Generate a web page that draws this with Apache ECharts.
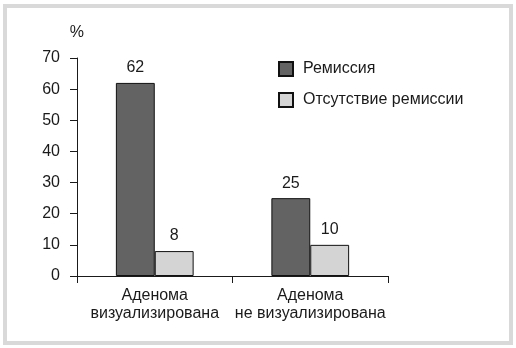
<!DOCTYPE html>
<html><head><meta charset="utf-8">
<style>html,body{margin:0;padding:0;background:#fff}#c{width:516px;height:348px}</style>
<script src="https://cdn.jsdelivr.net/npm/echarts@6/dist/echarts.min.js"></script>
</head><body><div id="c"></div>
<script>
const categories = ['Аденома\nвизуализирована', 'Аденома\nне визуализирована'];
const remission = [62, 25];
const noRemission = [8, 10];
const seriesNames = ['Ремиссия', 'Отсутствие ремиссии'];
const yTicks = {min: 0, max: 70, interval: 10};

const font = '"Liberation Sans", Arial, sans-serif';
const chart = echarts.init(document.getElementById('c'), null, {renderer: 'canvas'});
const barLabel = {show: true, position: 'top', distance: 7, color: '#1a1a1a', fontSize: 16, fontFamily: font};
chart.setOption({
  animation: false,
  textStyle: {fontFamily: font},
  graphic: [{type: 'rect', shape: {x: 5, y: 6, width: 506, height: 337}, style: {fill: 'none', stroke: '#d9d9d9', lineWidth: 4}}],
  grid: {left: 77, right: 128, top: 58, bottom: 72, containLabel: false},
  legend: {
    orient: 'vertical', left: 273, top: 56, itemWidth: 14, itemHeight: 14, itemGap: 15,
    icon: 'rect',
    textStyle: {fontSize: 16, color: '#1a1a1a', fontFamily: font, padding: [0, 0, 0, 5]},
    data: seriesNames
  },
  xAxis: {
    type: 'category', data: categories,
    axisLine: {lineStyle: {color: '#1a1a1a', width: 1}},
    axisTick: {show: true, length: 7, lineStyle: {color: '#1a1a1a'}},
    axisLabel: {interval: 0, color: '#1a1a1a', fontSize: 16, fontFamily: font, margin: 11, lineHeight: 18}
  },
  yAxis: {
    type: 'value', min: yTicks.min, max: yTicks.max, interval: yTicks.interval,
    name: '%', nameGap: 17, nameTextStyle: {color: '#1a1a1a', fontSize: 16, fontFamily: font, align: 'right', padding: [0, -7, 0, 0]},
    axisLine: {show: true, lineStyle: {color: '#1a1a1a', width: 1}},
    axisTick: {show: true, length: 7, lineStyle: {color: '#1a1a1a'}},
    splitLine: {show: false},
    axisLabel: {color: '#1a1a1a', fontSize: 16, fontFamily: font, margin: 17}
  },
  series: [
    {name: seriesNames[0], type: 'bar', data: remission, barWidth: '25%', barGap: '0%',
     itemStyle: {color: '#636363', borderColor: '#111', borderWidth: 1}, label: barLabel},
    {name: seriesNames[1], type: 'bar', data: noRemission, barWidth: '25%', barGap: '0%',
     itemStyle: {color: '#d4d4d4', borderColor: '#111', borderWidth: 1}, label: barLabel}
  ]
});
</script></body></html>
